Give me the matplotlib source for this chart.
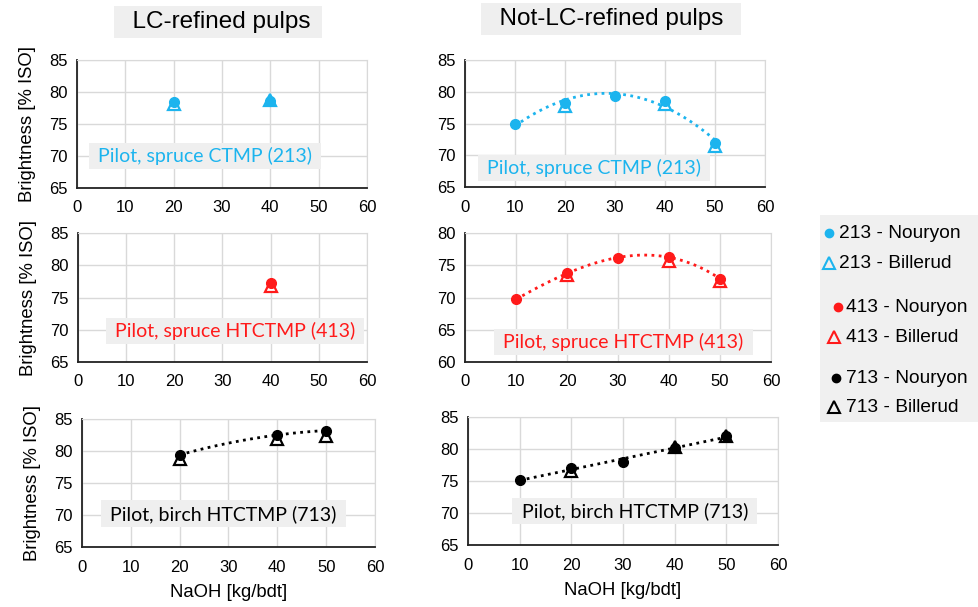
import numpy as np
import matplotlib
matplotlib.use("Agg")
import matplotlib.pyplot as plt

plt.rcParams['font.family'] = ['Liberation Sans', 'DejaVu Sans']

# NaOH charge [kg/bdt] and ISO brightness per pulp / lab
lc213_x_nou = [20, 40]
lc213_y_nou = [78.5, 78.6]
lc213_x_bil = [20, 40]
lc213_y_bil = [78.2, 78.8]

nlc213_x_nou = [10, 20, 30, 40, 50]
nlc213_y_nou = [74.9, 78.2, 79.4, 78.5, 72.0]
nlc213_x_bil = [20, 40, 50]
nlc213_y_bil = [77.7, 78.1, 71.5]

lc413_x_nou = [40]
lc413_y_nou = [77.2]
lc413_x_bil = [40]
lc413_y_bil = [76.8]

nlc413_x_nou = [10, 20, 30, 40, 50]
nlc413_y_nou = [69.7, 73.8, 76.1, 76.3, 72.9]
nlc413_x_bil = [20, 40, 50]
nlc413_y_bil = [73.5, 75.6, 72.5]

lc713_x_nou = [20, 40, 50]
lc713_y_nou = [79.4, 82.5, 83.2]
lc713_x_bil = [20, 40, 50]
lc713_y_bil = [78.7, 81.9, 82.3]

nlc713_x_nou = [10, 20, 30, 40, 50]
nlc713_y_nou = [75.1, 77.1, 78.0, 80.2, 82.0]
nlc713_x_bil = [20, 40, 50]
nlc713_y_bil = [76.6, 80.3, 82.1]

CYAN = '#1CB4EE'
RED = '#FF1A1A'
BLACK = '#000000'

W, H = 979, 607
fig = plt.figure(figsize=(W / 100, H / 100), dpi=100)


def px_axes(left, right, top, bottom):
    return fig.add_axes([left / W, 1 - bottom / H, (right - left) / W, (bottom - top) / H])


def style(ax, ylim):
    ax.set_xlim(0, 60)
    ax.set_ylim(*ylim)
    ax.set_xticks(range(0, 61, 10))
    ax.set_yticks(range(ylim[0], ylim[1] + 1, 5))
    ax.grid(True, color='#d9d9d9', linewidth=1.0)
    ax.set_axisbelow(True)
    for s in ['top', 'right']:
        ax.spines[s].set_color('#d9d9d9')
    for s in ['left', 'bottom']:
        ax.spines[s].set_color('#222222')
        ax.spines[s].set_linewidth(1.3)
    ax.tick_params(length=0, labelsize=12)
    ax.tick_params(axis='x', pad=9)
    ax.tick_params(axis='y', pad=7)


def draw(ax, xn, yn, xb, yb, color, deg=None):
    if deg is not None:
        coef = np.polyfit(xn, yn, deg)
        xs = np.linspace(min(xn), max(xn), 200)
        ax.plot(xs, np.polyval(coef, xs), linestyle=(0, (1, 1.6)), color=color, linewidth=2.0, zorder=2)
    ax.plot(xb, yb, linestyle='none', marker='^', markersize=8, markerfacecolor='white',
            markeredgecolor=color, markeredgewidth=1.6, zorder=3)
    ax.plot(xn, yn, linestyle='none', marker='o', markersize=7, color=color, zorder=4)


def box_label(ax, x, y, text, color):
    ax.text(x, y, ' ' + text + ' ', color=color, fontsize=14, family=['Lato', 'DejaVu Sans'],
            ha='center', va='center', zorder=5,
            bbox=dict(boxstyle='square,pad=0.22', facecolor='#efefef', edgecolor='none'))


ax1 = px_axes(77, 367, 60, 188)
style(ax1, (65, 85))
draw(ax1, lc213_x_nou, lc213_y_nou, lc213_x_bil, lc213_y_bil, CYAN)
box_label(ax1, 26.5, 70.0, 'Pilot, spruce CTMP (213)', CYAN)

ax2 = px_axes(465, 765, 60, 187)
style(ax2, (65, 85))
draw(ax2, nlc213_x_nou, nlc213_y_nou, nlc213_x_bil, nlc213_y_bil, CYAN, deg=2)
box_label(ax2, 25.8, 68.0, 'Pilot, spruce CTMP (213)', CYAN)

ax3 = px_axes(78, 367, 233, 362)
style(ax3, (65, 85))
draw(ax3, lc413_x_nou, lc413_y_nou, lc413_x_bil, lc413_y_bil, RED)
box_label(ax3, 32.6, 69.8, 'Pilot, spruce HTCTMP (413)', RED)

ax4 = px_axes(465, 771, 233, 362)
style(ax4, (60, 80))
draw(ax4, nlc413_x_nou, nlc413_y_nou, nlc413_x_bil, nlc413_y_bil, RED, deg=3)
box_label(ax4, 31.0, 63.1, 'Pilot, spruce HTCTMP (413)', RED)

ax5 = px_axes(82, 375, 419, 547)
style(ax5, (65, 85))
draw(ax5, lc713_x_nou, lc713_y_nou, lc713_x_bil, lc713_y_bil, BLACK, deg=2)
box_label(ax5, 28.9, 70.2, 'Pilot, birch HTCTMP (713)', BLACK)

ax6 = px_axes(468, 778, 417, 545)
style(ax6, (65, 85))
draw(ax6, nlc713_x_nou, nlc713_y_nou, nlc713_x_bil, nlc713_y_bil, BLACK, deg=1)
box_label(ax6, 32.3, 70.3, 'Pilot, birch HTCTMP (713)', BLACK)

for ax in (ax1, ax3, ax5):
    ax.set_ylabel('Brightness [% ISO]', fontsize=13.3, labelpad=9)
for ax in (ax5, ax6):
    ax.set_xlabel('NaOH [kg/bdt]', fontsize=13.3, labelpad=7)

# column headings
title_box = dict(boxstyle='square,pad=0.2', facecolor='#efefef', edgecolor='none')
fig.text(218 / W, 1 - 22 / H, '  LC-refined pulps ', fontsize=17.5, ha='center', va='center', bbox=title_box)
fig.text(611 / W, 1 - 19 / H, '  Not-LC-refined pulps  ', fontsize=17.5, ha='center', va='center', bbox=title_box)

# legend panel
leg = px_axes(820, 979, 215, 422)
leg.set_facecolor('#f0f0f0')
leg.set_xlim(820, 979)
leg.set_ylim(422, 215)
leg.set_xticks([])
leg.set_yticks([])
for s in leg.spines.values():
    s.set_visible(False)

legend_rows = [
    (233, 829, 839, 'o', CYAN, '213 - Nouryon'),
    (263, 829, 839, '^', CYAN, '213 - Billerud'),
    (307, 838, 846, 'o', RED, '413 - Nouryon'),
    (337, 834, 846, '^', RED, '413 - Billerud'),
    (378, 836, 846, 'o', BLACK, '713 - Nouryon'),
    (407, 834, 846, '^', BLACK, '713 - Billerud'),
]
for y, mx, tx, m, c, lab in legend_rows:
    if m == 'o':
        leg.plot(mx, y, marker='o', markersize=6, color=c, linestyle='none')
    else:
        leg.plot(mx, y, marker='^', markersize=8, markerfacecolor='none', markeredgecolor=c,
                 markeredgewidth=1.5, linestyle='none')
    leg.text(tx, y, lab, fontsize=13.8, ha='left', va='center')

fig.savefig('out.png', dpi=100)
